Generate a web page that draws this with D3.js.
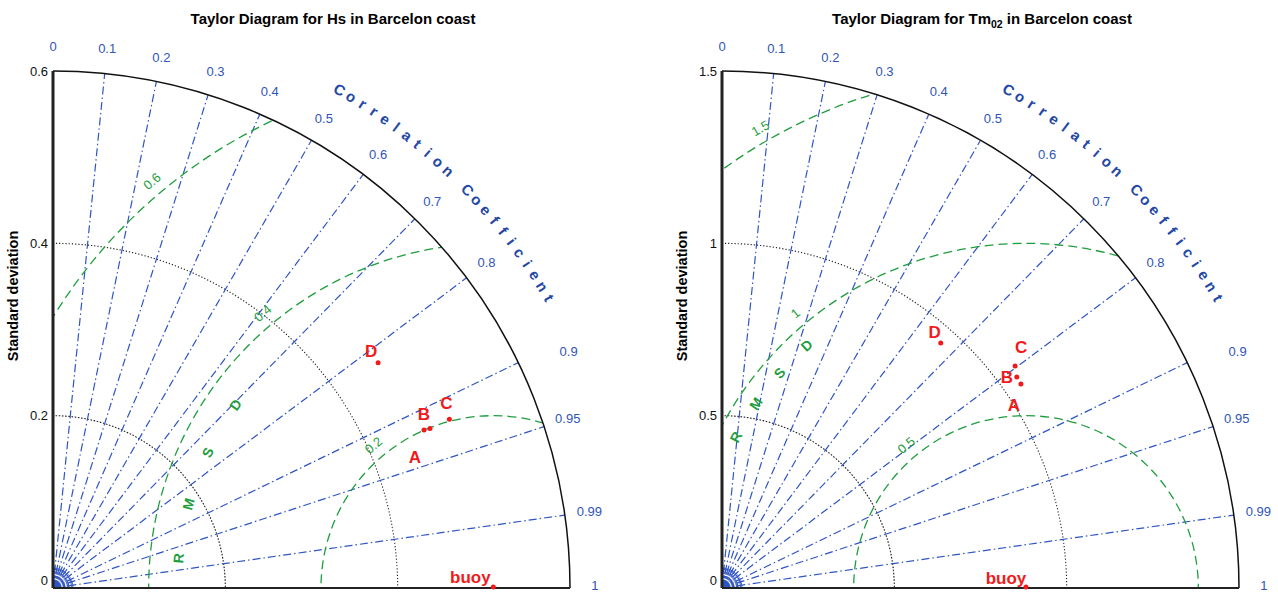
<!DOCTYPE html>
<html>
<head>
<meta charset="utf-8">
<script src="https://cdn.jsdelivr.net/npm/d3@7"></script>
<style>
  body { margin: 0; background: #fff; }
  svg { display: block; font-family: "Liberation Sans", Arial, Helvetica, sans-serif; }
</style>
</head>
<body>
<svg id="chart" width="1278" height="593"></svg>
<script>
// ---- data ----
const corrTicks = [0, 0.1, 0.2, 0.3, 0.4, 0.5, 0.6, 0.7, 0.8, 0.9, 0.95, 0.99, 1];
const modelNames = ['A', 'B', 'C', 'D'];

// Hs
const hsStd  = [0.475, 0.468, 0.500, 0.459];
const hsCorr = [0.921, 0.920, 0.920, 0.822];
const hsRefStd = 0.511;
const hsStdTicks = [0, 0.2, 0.4, 0.6];
const hsRmsTicks = [0.2, 0.4, 0.6];

// Tm02
const tmStd  = [1.050, 1.052, 1.067, 0.953];
const tmCorr = [0.826, 0.813, 0.797, 0.666];
const tmRefStd = 0.882;
const tmStdTicks = [0, 0.5, 1, 1.5];
const tmRmsTicks = [0.5, 1, 1.5];

// ---- style ----
const blue = '#2f55c4', blueText = '#2f55b8', blueTitle = '#2447a6';
const green = '#1f9e3e', red = '#f01a1a';

const svg = d3.select('#chart');

const charts = [
  {
    title: ['Taylor Diagram for Hs in Barcelon coast'], titleX: 333,
    ox: 53, oy: 588, R: 517,
    std: hsStd, corr: hsCorr, ref: hsRefStd,
    stdTicks: hsStdTicks, rmsTicks: hsRmsTicks,
    rmsWord: { r: 0.367, start: 174.6, step: -10 },
    labelOff: [[-15, 29], [0, -15], [-3, -16], [-7, -11]],
    buoyOff: [-23, -11]
  },
  {
    title: ['Taylor Diagram for Tm', '02', ' in Barcelon coast'], titleX: 982,
    ox: 722, oy: 588, R: 517,
    std: tmStd, corr: tmCorr, ref: tmRefStd,
    stdTicks: tmStdTicks, rmsTicks: tmRmsTicks,
    rmsWord: { r: 0.949, start: 152.5, step: -6.8 },
    labelOff: [[-7, 21], [-10, 1], [6, -18], [-6, -10]],
    buoyOff: [-20, -10]
  }
];

const rad = d => d * Math.PI / 180;
const deg = r => r * 180 / Math.PI;

const render = (cfg, idx) => {
  const maxStd = d3.max(cfg.stdTicks);
  const rs = d3.scaleLinear().domain([0, maxStd]).range([0, cfg.R]);
  const g = svg.append('g').attr('transform', `translate(${cfg.ox},${cfg.oy})`);
  const pos = (s, c) => [rs(s) * c, -rs(s) * Math.sqrt(Math.max(0, 1 - c * c))];

  // clip to quarter disc
  const clipId = 'clip' + idx;
  g.append('clipPath').attr('id', clipId)
    .append('path')
    .attr('d', d3.arc()({ innerRadius: 0, outerRadius: cfg.R, startAngle: 0, endAngle: Math.PI / 2 }));

  // title
  const t = svg.append('text')
    .attr('x', cfg.titleX).attr('y', 24)
    .attr('text-anchor', 'middle')
    .attr('font-weight', 'bold').attr('font-size', 15);
  cfg.title.forEach((s, i) => {
    const ts = t.append('tspan').text(s);
    if (i === 1) ts.attr('font-size', 10.5).attr('dy', 4);
    if (i === 2) ts.attr('dy', -4);
  });

  // y label
  svg.append('text')
    .attr('transform', `translate(${cfg.ox - 35},${cfg.oy - 292}) rotate(-90)`)
    .attr('text-anchor', 'middle')
    .attr('font-weight', 'bold').attr('font-size', 14.5)
    .text('Standard deviation');

  // std dotted arcs
  cfg.stdTicks.filter(v => v > 0 && v < maxStd).forEach(v => {
    g.append('path')
      .attr('d', d3.arc()({ innerRadius: rs(v), outerRadius: rs(v), startAngle: 0, endAngle: Math.PI / 2 }))
      .attr('fill', 'none').attr('stroke', '#222').attr('stroke-width', 1.1)
      .attr('stroke-dasharray', '1,2.2');
  });

  // correlation lines
  corrTicks.filter(c => c > 0 && c < 1).forEach(c => {
    const p = pos(maxStd, c);
    g.append('line')
      .attr('x1', 0).attr('y1', 0).attr('x2', p[0]).attr('y2', p[1])
      .attr('stroke', blue).attr('stroke-width', 1.2)
      .attr('stroke-dasharray', '8,3,1.5,3');
  });

  // fan near origin
  d3.range(2, 90, 3.5).forEach(a => {
    const c = Math.cos(rad(a)), s = Math.sin(rad(a));
    g.append('line')
      .attr('x1', 6 * c).attr('y1', -6 * s).attr('x2', 22 * c).attr('y2', -22 * s)
      .attr('stroke', blue).attr('stroke-width', 1)
      .attr('stroke-dasharray', '2.5,1.5');
  });
  g.append('path')
    .attr('d', d3.arc()({ innerRadius: 0, outerRadius: 7, startAngle: 0, endAngle: Math.PI / 2 }))
    .attr('fill', blue);

  // correlation labels
  const labelShift = { 0.9: 28 };
  corrTicks.forEach(c => {
    const p = pos(maxStd * 1.048, c);
    g.append('text')
      .attr('x', p[0] + (labelShift[c] || 0)).attr('y', p[1] - (c === 1 ? 3 : 0))
      .attr('text-anchor', 'middle').attr('dominant-baseline', 'central')
      .attr('font-size', 13).attr('fill', blueText)
      .text(c);
  });

  // "Correlation Coefficient" along the arc
  const word = 'Correlation Coefficient'.split('');
  const a0 = 60.1, a1 = 30.3, rw = cfg.R * 1.112;
  word.forEach((ch, i) => {
    const th = a0 + (a1 - a0) * i / (word.length - 1);
    g.append('text')
      .attr('transform', `translate(${rw * Math.cos(rad(th))},${-rw * Math.sin(rad(th))}) rotate(${90 - th})`)
      .attr('text-anchor', 'middle').attr('dominant-baseline', 'central')
      .attr('font-size', 15).attr('font-weight', 'bold').attr('fill', blueTitle)
      .text(ch);
  });

  // RMSD circles
  const refX = rs(cfg.ref);
  const rg = g.append('g').attr('clip-path', `url(#${clipId})`);
  cfg.rmsTicks.forEach(v => {
    rg.append('circle')
      .attr('cx', refX).attr('cy', 0).attr('r', rs(v))
      .attr('fill', 'none').attr('stroke', green).attr('stroke-width', 1.3)
      .attr('stroke-dasharray', '9,5');
  });
  // RMSD value labels
  cfg.rmsTicks.forEach(v => {
    const r = rs(v) + 14;
    // angle where circle meets the vertical axis
    const cross = deg(Math.acos(Math.max(-1, -refX / rs(v))));
    const th = Math.min(130, cross - 6);
    const x = refX + r * Math.cos(rad(th)), y = -r * Math.sin(rad(th));
    g.append('text')
      .attr('transform', `translate(${x},${y}) rotate(${90 - th})`)
      .attr('text-anchor', 'middle').attr('dominant-baseline', 'central')
      .attr('font-size', 13).attr('fill', green)
      .text(v);
  });
  // RMSD word
  'RMSD'.split('').forEach((ch, i) => {
    const th = cfg.rmsWord.start + cfg.rmsWord.step * i;
    const r = rs(cfg.rmsWord.r);
    g.append('text')
      .attr('transform', `translate(${refX + r * Math.cos(rad(th))},${-r * Math.sin(rad(th))}) rotate(${90 - th})`)
      .attr('text-anchor', 'middle').attr('dominant-baseline', 'central')
      .attr('font-size', 14).attr('font-weight', 'bold').attr('fill', green)
      .text(ch);
  });

  // frame: outer arc + axes
  g.append('path')
    .attr('d', d3.arc()({ innerRadius: cfg.R, outerRadius: cfg.R, startAngle: 0, endAngle: Math.PI / 2 }))
    .attr('fill', 'none').attr('stroke', '#111').attr('stroke-width', 1.5);
  g.append('line').attr('x1', 0).attr('y1', 0).attr('x2', 0).attr('y2', -cfg.R)
    .attr('stroke', '#222').attr('stroke-width', 3);
  g.append('line').attr('x1', 0).attr('y1', 0).attr('x2', cfg.R).attr('y2', 0)
    .attr('stroke', '#222').attr('stroke-width', 2);

  // std tick labels
  cfg.stdTicks.forEach(v => {
    g.append('text')
      .attr('x', -5).attr('y', v === 0 ? -8 : -rs(v))
      .attr('text-anchor', 'end').attr('dominant-baseline', 'central')
      .attr('font-size', 13).attr('fill', '#111')
      .text(v);
  });

  // model points
  cfg.std.forEach((s, i) => {
    const p = pos(s, cfg.corr[i]);
    g.append('circle').attr('cx', p[0]).attr('cy', p[1]).attr('r', 2.5).attr('fill', red);
    g.append('text')
      .attr('x', p[0] + cfg.labelOff[i][0]).attr('y', p[1] + cfg.labelOff[i][1])
      .attr('text-anchor', 'middle').attr('dominant-baseline', 'central')
      .attr('font-size', 17).attr('font-weight', 'bold').attr('fill', red)
      .text(modelNames[i]);
  });
  // reference point
  const b = pos(cfg.ref, 1);
  g.append('circle').attr('cx', b[0]).attr('cy', b[1] - 1).attr('r', 2.5).attr('fill', red);
  g.append('text')
    .attr('x', b[0] + cfg.buoyOff[0]).attr('y', b[1] + cfg.buoyOff[1])
    .attr('text-anchor', 'middle').attr('dominant-baseline', 'central')
    .attr('font-size', 17).attr('font-weight', 'bold').attr('fill', red)
    .text('buoy');
};

charts.forEach(render);
</script>
</body>
</html>
